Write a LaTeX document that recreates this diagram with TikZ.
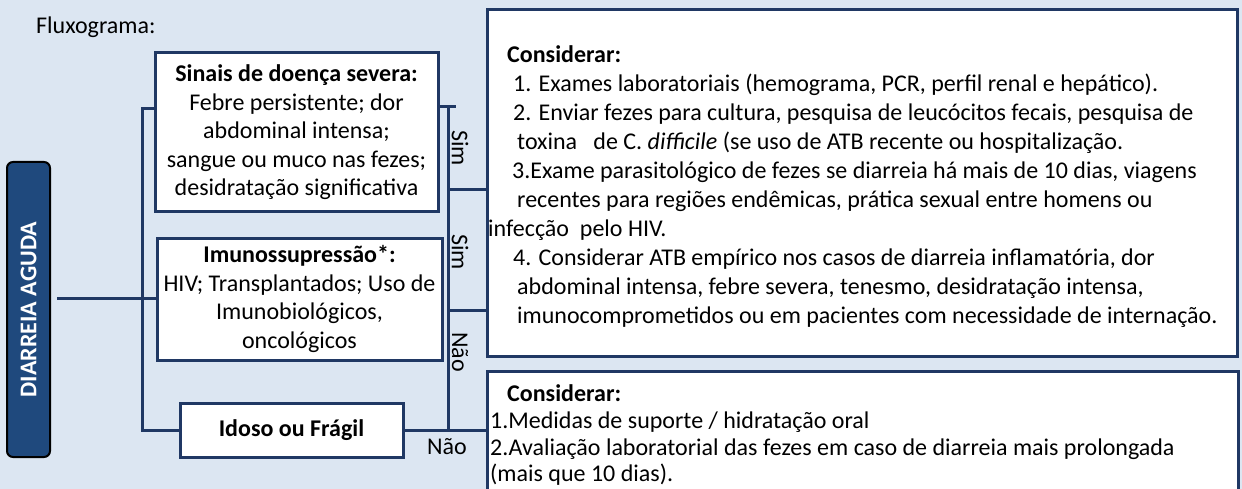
\documentclass[tikz,border=0pt]{standalone}
\usepackage{fontspec}
\setmainfont{Carlito}
\definecolor{bg}{HTML}{DCE6F2}
\definecolor{ln}{HTML}{203864}
\definecolor{df}{HTML}{1F497D}
\begin{document}
\begin{tikzpicture}[x=1pt,y=-1pt,
  conn/.style={draw=ln, line width=3pt},
  wbox/.style={draw=ln, line width=3pt, fill=white, align=center, inner sep=0pt,
    font=\fontsize{24}{28.5}\selectfont},
  bigbox/.style={draw=ln, line width=3pt, fill=white, inner sep=0pt},
  txt/.style={anchor=base west, inner sep=0pt, font=\fontsize{24}{28}\selectfont},
  lbl/.style={inner sep=0pt, font=\fontsize{24}{28}\selectfont}]
\fill[bg] (0,0) rectangle (1242,489);
\useasboundingbox (0,0) rectangle (1242,489);
\clip (0,0) rectangle (1242,489);

\node[lbl, anchor=west] (flux) at (36,27) {Fluxograma:};

% left column boxes
\node[draw=black, line width=2pt, fill=df, rounded corners=6pt, rotate=90,
  minimum width=295pt, minimum height=43pt, inner sep=0pt, text=white,
  font=\bfseries\fontsize{24}{28}\selectfont] (da) at (28.5,309.5) {DIARREIA AGUDA};

\node[wbox, minimum width=283pt, minimum height=159pt] (s) at (296.5,132.5)
  {\textbf{Sinais de doença severa:}\\Febre persistente; dor\\abdominal intensa;\\sangue ou muco nas fezes;\\desidratação significativa};
\node[wbox, minimum width=285pt, minimum height=122pt] (m) at (299.5,299)
  {\textbf{Imunossupressão*:}\\HIV; Transplantados; Uso de\\Imunobiológicos,\\oncológicos};
\node[wbox, minimum width=223pt, minimum height=54pt] (i) at (291.5,430)
  {\textbf{Idoso ou Frágil}};

% right boxes
\node[bigbox, minimum width=750pt, minimum height=346pt] (c1) at (862,183) {};
\node[bigbox, minimum width=751pt, minimum height=149pt] (c2) at (862.5,445.5) {};

% connectors left
\coordinate (lt) at (142,109);
\coordinate (lb) at (142,430);
\draw[conn] (s.west |- lt) -- (lt) -- (lb) -- (i.west);
\coordinate (dl) at (57,298);
\draw[conn] (dl) -- (m.west |- dl);

% connectors right
\coordinate (rt) at (456,107);
\coordinate (rs) at (448,107);
\coordinate (rb) at (448,430);
\draw[conn] (s.east |- rt) -- (rt);
\draw[conn] (rs) -- (rb);
\coordinate (j1) at (448,190);
\coordinate (j2) at (448,310);
\draw[conn] (j1) -- (c1.west |- j1);
\draw[conn] (j2) -- (c1.west |- j2);
\draw[conn] (i.east) -- (c2.west |- i.east);

% labels
\node[lbl, rotate=-90] (sim1) at (460,148) {Sim};
\node[lbl, rotate=-90] (sim2) at (460,252) {Sim};
\node[lbl, rotate=-90] (nao1) at (460,352) {Não};
\node[lbl] (nao2) at (447,447) {Não};

% text box 1
\node[txt] (a0) at (507,63) {\textbf{Considerar:}};
\node[txt] (a1) at (513,91.9) {1. Exames laboratoriais (hemograma, PCR, perfil renal e hepático).};
\node[txt] (a2) at (513,120.8) {2. Enviar fezes para cultura, pesquisa de leucócitos fecais, pesquisa de};
\node[txt] (a3) at (517,149.7) {toxina\ \ \ de C. \textit{difficile} (se uso de ATB recente ou hospitalização.};
\node[txt] (a4) at (512,178.6) {3.Exame parasitológico de fezes se diarreia há mais de 10 dias, viagens};
\node[txt] (a5) at (517,207.5) {recentes para regiões endêmicas, prática sexual entre homens ou};
\node[txt] (a6) at (488,236.4) {infecção\ \ pelo HIV.};
\node[txt] (a7) at (513,265.3) {4. Considerar ATB empírico nos casos de diarreia inflamatória, dor};
\node[txt] (a8) at (517,294.2) {abdominal intensa, febre severa, tenesmo, desidratação intensa,};
\node[txt] (a9) at (517,323.1) {imunocomprometidos ou em pacientes com necessidade de internação.};

% text box 2
\node[txt] (b0) at (507,401) {\textbf{Considerar:}};
\node[txt] (b1) at (490,428) {1.Medidas de suporte / hidratação oral};
\node[txt] (b2) at (490,455) {2.Avaliação laboratorial das fezes em caso de diarreia mais prolongada};
\node[txt] (b3) at (490,481) {(mais que 10 dias).};
\end{tikzpicture}
\end{document}
